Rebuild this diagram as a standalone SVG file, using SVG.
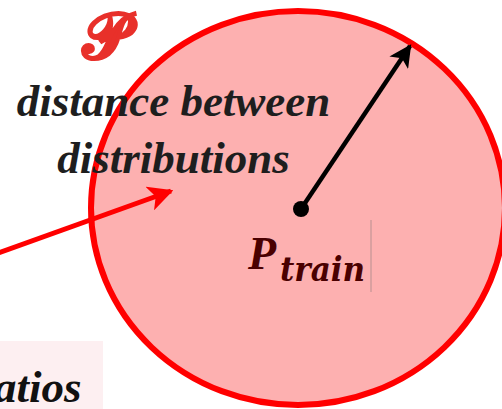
<svg xmlns="http://www.w3.org/2000/svg" width="502" height="409" viewBox="0 0 502 409">
  <defs>
    <marker id="headBlack" viewBox="0 0 10 10" refX="9" refY="5" markerWidth="5" markerHeight="5" orient="auto" markerUnits="strokeWidth">
      <path d="M0,0 L10,5 L0,10 L2.5,5 z" fill="#000"/>
    </marker>
    <marker id="headRed" viewBox="0 0 10 10" refX="9" refY="5" markerWidth="5" markerHeight="5" orient="auto" markerUnits="strokeWidth">
      <path d="M0,0 L10,5 L0,10 L2.5,5 z" fill="#ff0000"/>
    </marker>
  </defs>
  <style>
    .lbl { font-family: "Liberation Serif", "DejaVu Serif", serif; font-weight: bold; font-style: italic; }
  </style>
  <rect width="502" height="409" fill="#ffffff"/>

  <g id="ratios-box">
    <rect x="0" y="341" width="103" height="68" fill="#fdeff1"/>
    <text class="lbl" x="-6" y="402" font-size="45" fill="#111">atios</text>
  </g>

  <g id="ptrain-region">
    <ellipse cx="298" cy="208" rx="207" ry="197" fill="#fdb0b0" stroke="#ff0000" stroke-width="6"/>
  </g>

  <g id="script-p">
    <text x="106" y="58" font-family="'DejaVu Serif', 'Noto Sans', serif" font-size="64" font-weight="bold" fill="#e8302a" stroke="#e8302a" stroke-width="2.2" text-anchor="middle">𝒫</text>
  </g>

  <g id="distance-label">
    <text class="lbl" x="173.5" y="116" font-size="45" fill="#1e1e1e" text-anchor="middle">distance between</text>
    <text class="lbl" x="173.5" y="173" font-size="45" fill="#1e1e1e" text-anchor="middle">distributions</text>
  </g>

  <g id="ptrain-label">
    <text class="lbl" x="248" y="269" font-size="46" fill="#4a0000">P</text>
    <text x="280" y="281" font-family="'DejaVu Serif', serif" font-weight="bold" font-style="italic" font-size="33" fill="#4a0000" textLength="85" lengthAdjust="spacingAndGlyphs">train</text>
    <line x1="371" y1="220" x2="371" y2="292" stroke="#b89090" stroke-width="1"/>
  </g>

  <g id="center-dot">
    <circle cx="301" cy="209" r="8" fill="#000"/>
  </g>

  <g id="connectors">
    <line x1="301" y1="209" x2="410" y2="46" stroke="#000" stroke-width="4.5" marker-end="url(#headBlack)"/>
    <line x1="-2" y1="253" x2="171" y2="191" stroke="#ff0000" stroke-width="5" marker-end="url(#headRed)"/>
  </g>
</svg>
